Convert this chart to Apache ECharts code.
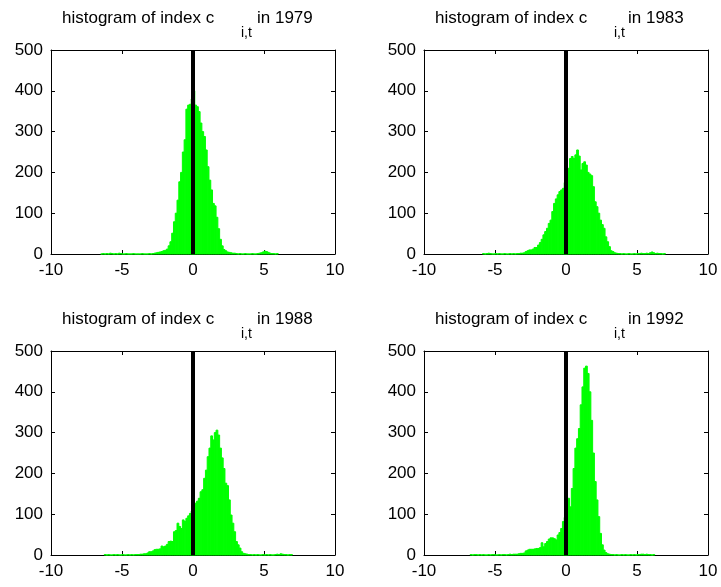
<!DOCTYPE html>
<html>
<head>
<meta charset="utf-8">
<script src="https://cdn.jsdelivr.net/npm/echarts@6/dist/echarts.min.js"></script>
<style>
html,body{margin:0;padding:0;background:#fff;}
#chart{width:721px;height:587px;}
</style>
</head>
<body>
<div id="chart"></div>
<script>
// ---- data ----
const years = ['1979', '1983', '1988', '1992'];
const binWidth = 0.125;
const binStarts = [-6.5, -5.875, -6.25, -6.75];

const counts1979 = [0,1,0,1,0,2,1,0,1,0, 2,1,0,0,1,0,0,0,1,0, 0,0,0,1,0,0,0,1,0,
  1,2,3,4,5,6,8,9,12,20,30,51,79,100,132,177,200,250,280,355,365,367,380,
  400,365,361,349,321,300,288,255,214,181,157,124,118,90,62,36,20,11,8,5,4,3,2,2,1,
  0,1,0,0,1,0,0,0,1,0,0,1, 2,3,5,7,6,4,2,1,1,0,1];

const counts1983 = [1,0,1,2,1,0,0,1,0,1,0,0,1,0,0,1,0,1,0,1,1,2,2,
  3,6,8,10,10,12,16,16,22,28,36,47,55,63,75,83,104,124,135,145,153,157,161,175,
  190,210,234,239,234,243,255,240,206,222,226,218,200,196,192,165,128,116,100,83,72,63,42,30,18,8,6,3,2,
  1,1,0,1,0,0,1,0,0,1,0,1,1,2,1,1,2,1,3,5,3,1,2,1,1,0,1];

const counts1988 = [1,0,1,0,0,1,0,1,0,0,1,0,0,1,0,1,0,1,1,
  1,2,2,3,3,5,8,8,10,13,14,14,15,22,20,22,26,33,34,33,57,60,78,70,65,86,82,90,96,102,108,
  118,127,132,139,155,160,188,208,241,262,292,282,300,306,294,262,238,212,176,170,135,98,78,57,33,25,17,8,4,3,2,
  1,1,0,1,0,1,0,0,1,0,1,0,1,0,0,1,2,1,3,2,1,1,0,1,1];

const counts1992 = [1,0,1,1,0,1,0,1,0,0,1,0,1,1,0,0,1,0,1,1,0,1,2,1,2,2,
  2,3,4,4,5,10,12,14,14,14,15,16,16,18,30,20,28,33,39,42,42,40,37,49,55,65,82,92,
  110,139,118,163,212,262,285,310,368,412,458,463,445,400,330,250,180,135,94,53,25,12,6,3,
  2,1,1,0,1,0,0,1,0,1,0,0,1,0,1,0,1,1,2,2,1,2,1,1,0,1];

const allCounts = [counts1979, counts1983, counts1988, counts1992];
const zeroLine = [[0, 0], [0, 500]];

// ---- layout ----
const FONT = "'Liberation Sans', Arial, sans-serif";
const grids = [
  {left: 51, top: 50, width: 284, height: 204},
  {left: 424, top: 50, width: 284, height: 204},
  {left: 51, top: 351, width: 284, height: 204},
  {left: 424, top: 351, width: 284, height: 204}
];
const titlePos = [
  {main: 62, sub: 241, tail: 257, top: 10},
  {main: 435, sub: 614, tail: 628, top: 10},
  {main: 62, sub: 241, tail: 257, top: 311},
  {main: 435, sub: 614, tail: 628, top: 311}
];

const axisLineStyle = {show: true, onZero: false, lineStyle: {color: '#000', width: 1}};
const tickStyle = {show: true, inside: true, length: 4, lineStyle: {color: '#000', width: 1}};
const labelStyle = {color: '#000', fontSize: 17, fontFamily: FONT, margin: 8};

const xAxes = [], yAxes = [], series = [], titles = [];
grids.forEach((g, k) => {
  xAxes.push({type: 'value', gridIndex: k, min: -10, max: 10, interval: 5, position: 'bottom',
    axisLine: axisLineStyle, axisTick: tickStyle, axisLabel: labelStyle, splitLine: {show: false}});
  xAxes.push({type: 'value', gridIndex: k, min: -10, max: 10, interval: 5, position: 'top',
    axisLine: axisLineStyle, axisTick: tickStyle, axisLabel: {show: false}, splitLine: {show: false}});
  yAxes.push({type: 'value', gridIndex: k, min: 0, max: 500, interval: 100, position: 'left',
    axisLine: axisLineStyle, axisTick: tickStyle, axisLabel: labelStyle, splitLine: {show: false}});
  yAxes.push({type: 'value', gridIndex: k, min: 0, max: 500, interval: 100, position: 'right',
    axisLine: axisLineStyle, axisTick: tickStyle, axisLabel: {show: false}, splitLine: {show: false}});

  const start = binStarts[k];
  const data = allCounts[k].map((c, i) => [start + i * binWidth, c]);
  series.push({
    type: 'custom', xAxisIndex: 2 * k, yAxisIndex: 2 * k, z: 2,
    data: data,
    renderItem: function (params, api) {
      const x0 = api.value(0), c = api.value(1);
      const p0 = api.coord([x0, c]);
      const p1 = api.coord([x0 + binWidth, 0]);
      return {
        type: 'rect',
        shape: {x: p0[0], y: p0[1], width: p1[0] - p0[0], height: p1[1] - p0[1]},
        style: {fill: '#00ff00', stroke: '#00ff00', lineWidth: 1}
      };
    },
    silent: true
  });
  series.push({
    type: 'line', xAxisIndex: 2 * k, yAxisIndex: 2 * k, z: 5,
    data: zeroLine, symbol: 'none', silent: true,
    lineStyle: {color: '#000', width: 4}
  });

  const tp = titlePos[k];
  const ts = {color: '#000', fontSize: 17, fontWeight: 'normal', fontFamily: FONT};
  titles.push({text: 'histogram of index c', left: tp.main, top: tp.top, padding: 0, textStyle: ts});
  titles.push({text: 'i,t', left: tp.sub, top: tp.top + 16, padding: 0,
    textStyle: Object.assign({}, ts, {fontSize: 14})});
  titles.push({text: 'in ' + years[k], left: tp.tail, top: tp.top, padding: 0, textStyle: ts});
});

const chart = echarts.init(document.getElementById('chart'), null, {renderer: 'canvas'});
chart.setOption({
  animation: false,
  backgroundColor: '#fff',
  title: titles,
  grid: grids,
  xAxis: xAxes,
  yAxis: yAxes,
  series: series
});
</script>
</body>
</html>
